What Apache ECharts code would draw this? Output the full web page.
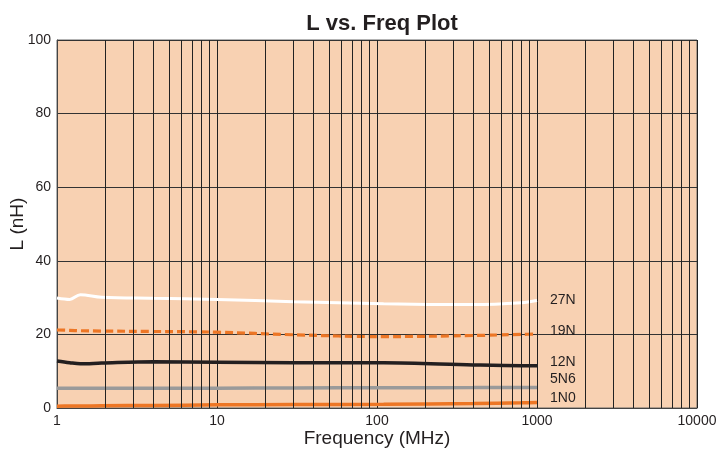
<!DOCTYPE html>
<html>
<head>
<meta charset="utf-8">
<script src="https://cdn.jsdelivr.net/npm/echarts@6/dist/echarts.min.js"></script>
<style>html,body{margin:0;padding:0;background:#fff}#c{width:718px;height:452px}</style>
</head>
<body>
<div id="c"></div>
<script>
// Frequency points (MHz)
var freq = [1, 1.2, 1.4, 1.9, 4, 10, 30, 110, 400, 800, 1000];
// Inductance values (nH)
var L27N = [29.9, 29.5, 30.8, 30.1, 29.8, 29.5, 28.9, 28.3, 28.1, 28.6, 29.2];
var L19N = [21.2, 21.1, 21.0, 20.9, 20.8, 20.6, 19.9, 19.4, 19.7, 20.0, 20.1];
var L12N = [12.8, 12.3, 12.0, 12.2, 12.55, 12.45, 12.3, 12.3, 11.7, 11.5, 11.5];
var L5N6 = [5.4, 5.4, 5.4, 5.4, 5.4, 5.4, 5.45, 5.5, 5.55, 5.6, 5.6];
var L1N0 = [0.5, 0.52, 0.55, 0.6, 0.7, 0.85, 0.95, 1.0, 1.2, 1.4, 1.5];
var seriesNames = ['27N', '19N', '12N', '5N6', '1N0'];
// x-axis range and tick labels
var xTicks = [1, 10, 100, 1000, 10000];
var yTicks = [0, 20, 40, 60, 80, 100];
// minor vertical grid positions
var minorGrid = [];
[1, 10, 100, 1000].forEach(function (d) {
  for (var k = 2; k <= 9; k++) minorGrid.push(k * d);
});

function pairs(ys) { return freq.map(function (f, i) { return [f, ys[i]]; }); }

var orange = '#ED7625';
var labelOffsets = { '27N': 0, '19N': -3, '12N': -3.5, '5N6': -8, '1N0': -4 };

function lineSeries(name, ys, color, width, type) {
  return {
    name: name, type: 'line', data: pairs(ys), smooth: 0.35, showSymbol: false, symbol: 'none',
    z: 3,
    lineStyle: { color: color, width: width, type: type || 'solid', cap: 'butt' },
    endLabel: {
      show: true, formatter: name, color: '#231f20', fontSize: 14,
      fontFamily: 'Liberation Sans, Arial, sans-serif',
      distance: 0, offset: [13, labelOffsets[name]], align: 'left', verticalAlign: 'middle'
    },
    emphasis: { disabled: true }
  };
}

var chart = echarts.init(document.getElementById('c'), null, { renderer: 'canvas' });
chart.setOption({
  animation: false,
  backgroundColor: '#ffffff',
  textStyle: { fontFamily: 'Liberation Sans, Arial, sans-serif' },
  title: {
    text: 'L vs. Freq Plot', left: 377, textAlign: 'center', top: 8,
    textStyle: { fontSize: 22, fontWeight: 'bold', color: '#231f20', fontFamily: 'Liberation Sans, Arial, sans-serif' }
  },
  grid: {
    left: 57, right: 21, top: 40, bottom: 44, show: true,
    outerBoundsMode: 'none', containLabel: false,
    backgroundColor: '#F8D1B2', borderColor: '#666', borderWidth: 1
  },
  xAxis: {
    type: 'log', logBase: 10, min: xTicks[0], max: xTicks[xTicks.length - 1],
    name: 'Frequency (MHz)', nameLocation: 'middle', nameGap: 21, nameMoveOverlap: false,
    nameTextStyle: { fontSize: 19, color: '#231f20' },
    axisLine: { show: true, lineStyle: { color: '#444', width: 1 } },
    axisTick: { show: false },
    axisLabel: { fontSize: 14, color: '#231f20', margin: 6, formatter: function (v) { return String(v); } },
    splitLine: { show: true, lineStyle: { color: '#222', width: 1 } }
  },
  yAxis: {
    type: 'value', min: 0, max: 100, interval: 20,
    name: 'L (nH)', nameLocation: 'middle', nameGap: 30, nameMoveOverlap: false,
    nameTextStyle: { fontSize: 19, color: '#231f20' },
    axisLine: { show: true, lineStyle: { color: '#444', width: 1 } },
    axisTick: { show: false },
    axisLabel: { fontSize: 14, color: '#231f20', margin: 6 },
    splitLine: { show: true, lineStyle: { color: '#333', width: 1 } }
  },
  series: [
    {
      name: 'grid', type: 'line', data: [], z: 1, silent: true,
      markLine: {
        silent: true, symbol: ['none', 'none'], label: { show: false },
        lineStyle: { color: '#222', width: 1, type: 'solid' },
        emphasis: { disabled: true },
        data: minorGrid.map(function (v) { return { xAxis: v }; })
      }
    },
    lineSeries('27N', L27N, '#ffffff', 3),
    lineSeries('19N', L19N, orange, 3.2, [8, 4]),
    lineSeries('12N', L12N, '#231f20', 3.5),
    lineSeries('5N6', L5N6, '#9a9a9a', 3.5),
    lineSeries('1N0', L1N0, orange, 3.5)
  ]
});
</script>
</body>
</html>
